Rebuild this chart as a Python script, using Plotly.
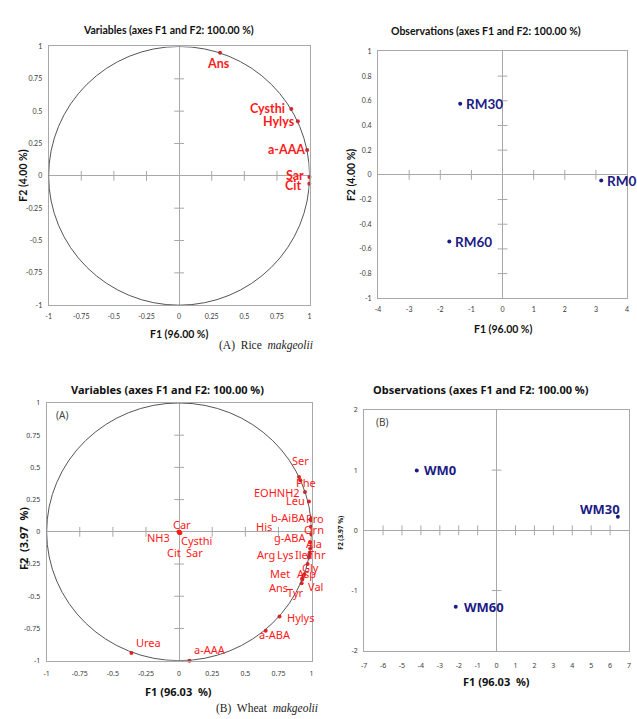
import plotly.graph_objects as go

W, H = 637, 719

# ---------------- DATA ----------------
rice_var_names = ["Ans", "Cysthi", "Hylys", "a-AAA", "Sar", "Cit"]
rice_var_f1 = [0.314, 0.86, 0.91, 0.981, 0.999, 0.998]
rice_var_f2 = [0.952, 0.517, 0.422, 0.20, -0.01, -0.062]

rice_obs_names = ["RM30", "RM0", "RM60"]
rice_obs_f1 = [-1.36, 3.17, -1.71]
rice_obs_f2 = [0.576, -0.046, -0.54]

wheat_var_names = ["Ser", "Phe", "EOHNH2", "Leu", "b-AiBA", "Pro", "His", "Orn", "g-ABA",
                   "Ala", "Arg", "Lys", "Ile", "Thr", "Gly", "Met", "Asp", "Ans", "Tyr",
                   "Val", "Hylys", "a-ABA", "Urea", "a-AAA", "Car", "NH3", "Cysthi", "Cit", "Sar"]
wheat_var_f1 = [0.905, 0.915, 0.95, 0.98, 0.995, 0.995, 0.995, 0.999, 0.99,
                0.99, 0.985, 0.98, 0.985, 0.98, 0.97, 0.945, 0.94, 0.93, 0.93,
                0.925, 0.758, 0.654, -0.36, 0.078, 0.003, -0.005, 0.01, 0.0, 0.005]
wheat_var_f2 = [0.425, 0.40, 0.31, 0.235, 0.10, 0.09, 0.04, -0.02, -0.08,
                -0.13, -0.17, -0.19, -0.17, -0.20, -0.25, -0.33, -0.34, -0.36, -0.37,
                -0.40, -0.658, -0.768, -0.94, -1.0, 0.0, 0.0, -0.01, -0.01, -0.005]

wheat_obs_names = ["WM0", "WM30", "WM60"]
wheat_obs_f1 = [-4.22, 6.41, -2.16]
wheat_obs_f2 = [0.995, 0.224, -1.27]

corr_ticks = [-1, -0.75, -0.5, -0.25, 0, 0.25, 0.5, 0.75, 1]
corr_ticktext = ["-1", "-0.75", "-0.5", "-0.25", "0", "0.25", "0.5", "0.75", "1"]
rice_obs_xticks = [-4, -3, -2, -1, 0, 1, 2, 3, 4]
rice_obs_xticktext = ["-4", "-3", "-2", "-1", "0", "1", "2", "3", "4"]
rice_obs_yticks = [-1, -0.8, -0.6, -0.4, -0.2, 0, 0.2, 0.4, 0.6, 0.8, 1]
rice_obs_yticktext = ["-1", "-0.8", "-0.6", "-0.4", "-0.2", "0", "0.2", "0.4", "0.6", "0.8", "1"]
wheat_obs_xticks = [-7, -6, -5, -4, -3, -2, -1, 0, 1, 2, 3, 4, 5, 6, 7]
wheat_obs_xticktext = ["-7", "-6", "-5", "-4", "-3", "-2", "-1", "0", "1", "2", "3", "4", "5", "6", "7"]
wheat_obs_yticks = [-2, -1, 0, 1, 2]
wheat_obs_yticktext = ["-2", "-1", "0", "1", "2"]

# ---------------- STYLE ----------------
RED = "#ff1a1a"
BLUE = "#1c1c84"
FRAME = "#a8a8a8"
TICKC = "#3a3a3a"
F_RICE = "Lato"
F_WHEAT = "Noto Sans"

rice_var_shift = {"Ans": (-2, -11), "Cysthi": (-24, 0), "Hylys": (-19, 0), "a-AAA": (-21, 0),
                  "Sar": (-14, 2), "Cit": (-16, -2)}
wheat_var_shift = {"Ser": (2, 17), "Phe": (6, -2), "EOHNH2": (-28, -1), "Leu": (-13, 1),
                   "b-AiBA": (-22, 1), "Pro": (4, 2), "His": (-47, 0), "Orn": (3, 5),
                   "g-ABA": (-20, 5), "Ala": (4, 5), "Arg": (-44, -1), "Lys": (-23, 2),
                   "Ile": (-8, -1), "Thr": (8, 3), "Gly": (3, -3), "Met": (-24, 1),
                   "Asp": (3, 2), "Ans": (-24, -9), "Tyr": (-7, -13), "Val": (14, -3),
                   "Hylys": (21, -1), "a-ABA": (9, -4), "Urea": (17, 10), "a-AAA": (21, 11),
                   "Car": (2, 7), "NH3": (-20, -6), "Cysthi": (16, -7), "Cit": (-5, -19),
                   "Sar": (15, -20)}
rice_obs_shift = {"RM30": (4, 0), "RM0": (4, 0), "RM60": (4, 0)}
wheat_obs_shift = {"WM0": (5, 0), "WM30": (-40, 8), "WM60": (6, 0)}


def xd(p0, p1):
    return [p0 / W, p1 / W]


def yd(p0, p1):
    return [1 - p1 / H, 1 - p0 / H]


panels = {
    1: dict(x=xd(46, 309), y=yd(42, 304)),
    2: dict(x=xd(378, 629), y=yd(47, 297)),
    3: dict(x=xd(44, 311), y=yd(403, 664)),
    4: dict(x=xd(364, 631), y=yd(410, 654)),
}

fig = go.Figure()


def axname(i, a):
    return a if i == 1 else f"{a}{i}"


def add_cross_ticks(i, xt, yt):
    xr = "x" if i == 1 else f"x{i}"
    yr = "y" if i == 1 else f"y{i}"
    xs = [v for v in xt if v != 0 and v != xt[0] and v != xt[-1]]
    ys = [v for v in yt if v != 0 and v != yt[0] and v != yt[-1]]
    fig.add_trace(go.Scatter(x=xs, y=[0] * len(xs), mode="markers", xaxis=xr, yaxis=yr,
                             marker=dict(symbol="line-ns", size=7, line=dict(color=FRAME, width=1)),
                             hoverinfo="skip", showlegend=False))
    fig.add_trace(go.Scatter(x=[0] * len(ys), y=ys, mode="markers", xaxis=xr, yaxis=yr,
                             marker=dict(symbol="line-ew", size=7, line=dict(color=FRAME, width=1)),
                             hoverinfo="skip", showlegend=False))


def add_points(i, xs, ys, color):
    xr = "x" if i == 1 else f"x{i}"
    yr = "y" if i == 1 else f"y{i}"
    fig.add_trace(go.Scatter(x=xs, y=ys, mode="markers", xaxis=xr, yaxis=yr,
                             marker=dict(size=4, color=color), cliponaxis=False,
                             hoverinfo="skip", showlegend=False))


def add_labels(i, names, xs, ys, shifts, color, family, size, bold, anchor="center"):
    xr = "x" if i == 1 else f"x{i}"
    yr = "y" if i == 1 else f"y{i}"
    for n, x, y in zip(names, xs, ys):
        dx, dy = shifts[n]
        fig.add_annotation(x=x, y=y, xref=xr, yref=yr, text=f"<b>{n}</b>" if bold else n,
                           showarrow=False, xshift=dx, yshift=dy, xanchor=anchor, yanchor="middle",
                           font=dict(color=color, family=family, size=size))


# circles
for i in (1, 3):
    xr = "x" if i == 1 else f"x{i}"
    yr = "y" if i == 1 else f"y{i}"
    fig.add_shape(type="circle", xref=xr, yref=yr, x0=-1, y0=-1, x1=1, y1=1,
                  line=dict(color="#555555", width=1), layer="above")

add_cross_ticks(1, corr_ticks, corr_ticks)
add_cross_ticks(2, rice_obs_xticks, rice_obs_yticks)
add_cross_ticks(3, corr_ticks, corr_ticks)
add_cross_ticks(4, wheat_obs_xticks, wheat_obs_yticks)

add_points(1, rice_var_f1, rice_var_f2, RED)
add_points(2, rice_obs_f1, rice_obs_f2, BLUE)
add_points(3, wheat_var_f1, wheat_var_f2, RED)
add_points(4, wheat_obs_f1, wheat_obs_f2, BLUE)

add_labels(1, rice_var_names, rice_var_f1, rice_var_f2, rice_var_shift, RED, F_RICE, 12.5, True)
add_labels(2, rice_obs_names, rice_obs_f1, rice_obs_f2, rice_obs_shift, BLUE, F_RICE, 13.5, True, "left")
add_labels(3, wheat_var_names, wheat_var_f1, wheat_var_f2, wheat_var_shift, RED, F_WHEAT, 11, False)
add_labels(4, wheat_obs_names, wheat_obs_f1, wheat_obs_f2, wheat_obs_shift, BLUE, F_WHEAT, 13, True, "left")

axcfg = {
    1: (corr_ticks, corr_ticktext, corr_ticks, corr_ticktext, F_RICE, 4),
    2: (rice_obs_xticks, rice_obs_xticktext, rice_obs_yticks, rice_obs_yticktext, F_RICE, 4),
    3: (corr_ticks, corr_ticktext, corr_ticks, corr_ticktext, F_WHEAT, 6),
    4: (wheat_obs_xticks, wheat_obs_xticktext, wheat_obs_yticks, wheat_obs_yticktext, F_WHEAT, 8),
}

layout = {}
for i, (xt, xtt, yt, ytt, fam, tl) in axcfg.items():
    common = dict(showgrid=False, zeroline=True, zerolinecolor=FRAME, zerolinewidth=1,
                  showline=True, linecolor=FRAME, linewidth=1, mirror=True,
                  ticks="outside", tickcolor="rgba(0,0,0,0)",
                  tickfont=dict(size=7, color=TICKC, family=fam), fixedrange=True)
    layout[axname(i, "xaxis")] = dict(common, domain=panels[i]["x"], range=[xt[0], xt[-1]],
                                      tickvals=xt, ticktext=xtt, ticklen=tl,
                                      anchor="y" if i == 1 else f"y{i}")
    layout[axname(i, "yaxis")] = dict(common, domain=panels[i]["y"], range=[yt[0], yt[-1]],
                                      tickvals=yt, ticktext=ytt, ticklen=4,
                                      anchor="x" if i == 1 else f"x{i}")

fig.update_layout(**layout)


def txt(text, px, py, family, size, color="#111111", angle=0, bold=True):
    t = f"<b>{text}</b>" if bold else text
    fig.add_annotation(text=t, x=px / W, y=1 - py / H, xref="paper", yref="paper",
                       showarrow=False, xanchor="center", yanchor="middle", textangle=angle,
                       font=dict(family=family, size=size, color=color))


TITLE = "Variables (axes F1 and F2: 100.00 %)"
OTITLE = "Observations (axes F1 and F2: 100.00 %)"
txt(TITLE, 167, 25, F_RICE, 10.5)
txt(OTITLE, 487, 26, F_RICE, 10.5)
txt(TITLE, 166, 389, F_WHEAT, 11)
txt(OTITLE, 482, 389, F_WHEAT, 11)

txt("F1 (96.00 %)", 177, 333, F_RICE, 10.5)
txt("F2 (4.00 %)", 20, 173, F_RICE, 10.5, angle=-90)
txt("F1 (96.00 %)", 504, 328, F_RICE, 10.5)
txt("F2 (4.00 %)", 351, 172, F_RICE, 10.5, angle=-90)
txt("F1 (96.03  %)", 177, 695, F_WHEAT, 11)
txt("F2  (3.97  %)", 20, 540, F_WHEAT, 11, angle=-90)
txt("F1 (96.03  %)", 497, 685, F_WHEAT, 11)
txt("F2 (3.97 %)", 340, 534, F_WHEAT, 6.5, angle=-90)

txt("(A)", 59, 415, F_WHEAT, 10, color="#444444", bold=False)
txt("(B)", 382, 422, F_WHEAT, 10, color="#444444", bold=False)

txt("(A)  Rice  <i>makgeolii</i>", 265, 345, "Liberation Serif", 11.5, color="#222222", bold=False)
txt("(B)  Wheat  <i>makgeolii</i>", 266, 712, "Liberation Serif", 11.5, color="#222222", bold=False)

fig.update_layout(width=W, height=H, autosize=False, margin=dict(l=0, r=0, t=0, b=0),
                  paper_bgcolor="white", plot_bgcolor="white", showlegend=False)

fig.write_html("out.html")
